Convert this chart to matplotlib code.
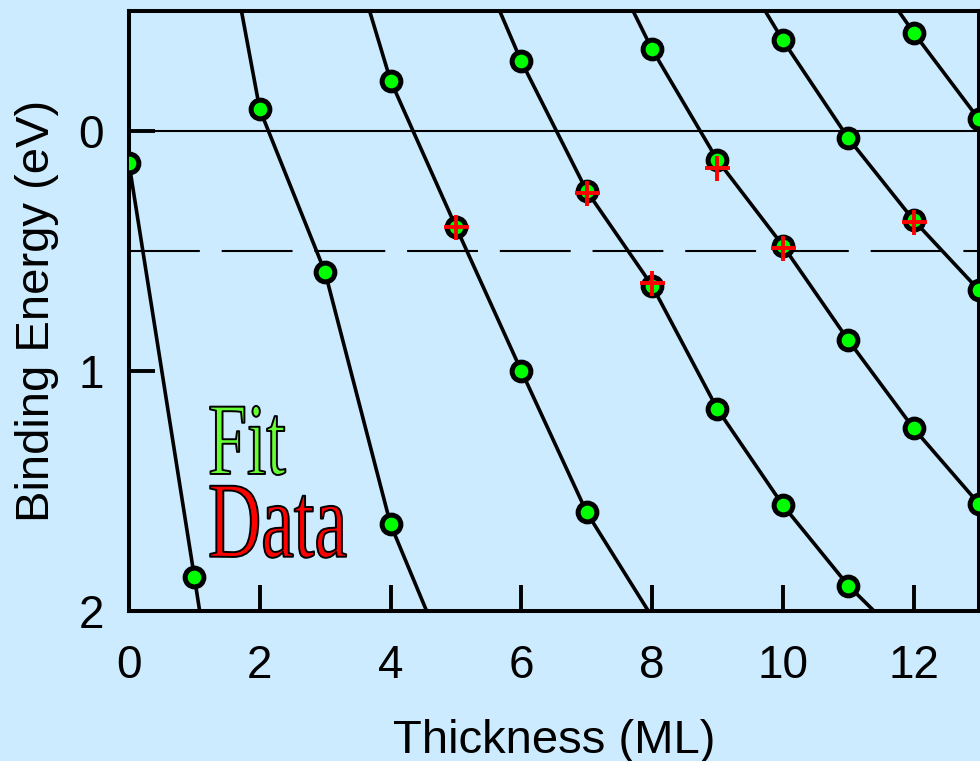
import matplotlib
matplotlib.use("Agg")
import matplotlib.pyplot as plt
import matplotlib.patheffects as pe
from matplotlib.transforms import Affine2D

# Fit curves: points at whole-layer thicknesses (the green dots)
fit_x_1 = [0, 1]
fit_y_1 = [0.135, 1.86]
fit_x_2 = [2, 3, 4]
fit_y_2 = [-0.09, 0.59, 1.64]
fit_x_3 = [4, 5, 6, 7]
fit_y_3 = [-0.21, 0.40, 1.00, 1.59]
fit_x_4 = [6, 7, 8, 9, 10, 11]
fit_y_4 = [-0.29, 0.25, 0.645, 1.16, 1.56, 1.895]
fit_x_5 = [8, 9, 10, 11, 12, 13]
fit_y_5 = [-0.34, 0.122, 0.478, 0.872, 1.24, 1.555]
fit_x_6 = [10, 11, 12, 13]
fit_y_6 = [-0.378, 0.03, 0.372, 0.664]
fit_x_7 = [12, 13]
fit_y_7 = [-0.41, -0.048]

# where each fit curve leaves the frame (top edge at -0.5 eV, bottom edge at 2 eV)
top_x = [None, 1.72, 3.68, 5.67, 7.71, 9.73, 11.77]
bottom_x = [1.08, 4.55, 7.94, 11.39, None, None, None]

# measured data (red crosses)
data_x = [5, 7, 8, 9, 10, 12]
data_y = [0.40, 0.26, 0.632, 0.155, 0.49, 0.38]

bg = "#CCEBFF"
plt.rcParams["font.family"] = ["Liberation Sans", "DejaVu Sans"]


class Squeeze(pe.AbstractPathEffect):
    """Draw text narrower (condensed look) with a thin black outline."""
    def __init__(self, sx, edge="black", lw=1.4):
        super().__init__()
        self.sx = sx
        self.edge = edge
        self.lw = lw

    def draw_path(self, renderer, gc, tpath, affine, rgbFace=None):
        x0, y0 = affine.transform((0, 0))
        aff = affine + Affine2D().translate(-x0, -y0).scale(self.sx, 1).translate(x0, y0)
        gc0 = renderer.new_gc()
        gc0.copy_properties(gc)
        gc0.set_linewidth(self.lw)
        gc0.set_foreground(self.edge)
        renderer.draw_path(gc0, tpath, aff, rgbFace)
        gc0.restore()


fig = plt.figure(figsize=(9.8, 7.61), dpi=100, facecolor=bg)
ax = fig.add_axes([129 / 980, 1 - 610.7 / 761, 850 / 980, 599.7 / 761])
ax.set_facecolor(bg)

ax.axhline(0, color="black", lw=1.5, zorder=1)
ax.axhline(0.5, color="black", lw=1.5, ls=(0, (34, 10.5)), zorder=1)

curves = [(fit_x_1, fit_y_1), (fit_x_2, fit_y_2), (fit_x_3, fit_y_3), (fit_x_4, fit_y_4),
          (fit_x_5, fit_y_5), (fit_x_6, fit_y_6), (fit_x_7, fit_y_7)]
for (cx, cy), tx, bx in zip(curves, top_x, bottom_x):
    lx, ly = list(cx), list(cy)
    if tx is not None:
        lx, ly = [tx] + lx, [-0.5] + ly
    if bx is not None:
        lx, ly = lx + [bx], ly + [2.0]
    ax.plot(lx, ly, color="black", lw=2.6, zorder=2)
    ax.plot(cx, cy, "o", ms=13.5, mfc="#00FF00", mec="black", mew=3.6, zorder=3)

ax.plot(data_x, data_y, "+", ms=18, mec="#FF0000", mew=2.8, zorder=4)

ax.set_xlim(0, 13)
ax.set_ylim(2, -0.5)
ax.set_xticks(range(0, 13, 2))
ax.set_yticks([0, 1, 2])
ax.tick_params(direction="in", length=19, width=2.8, labelsize=33, top=False, right=False)
ax.tick_params(axis="x", pad=24)
ax.tick_params(axis="y", pad=18)
for s in ax.spines.values():
    s.set_linewidth(2.9)

ax.set_xlabel("Thickness (ML)", fontsize=34, labelpad=22)
ax.set_ylabel("Binding Energy (eV)", fontsize=34, labelpad=14)

ax.text(0.093, 0.228, "Fit", transform=ax.transAxes, fontsize=74, family="Liberation Serif",
        color="#66FF33", ha="left", va="baseline", path_effects=[Squeeze(0.68)], zorder=5)
ax.text(0.093, 0.090, "Data", transform=ax.transAxes, fontsize=78, family="Liberation Serif",
        color="#FF0000", ha="left", va="baseline", path_effects=[Squeeze(0.68)], zorder=5)

fig.savefig("out.png", dpi=100, facecolor=bg)
